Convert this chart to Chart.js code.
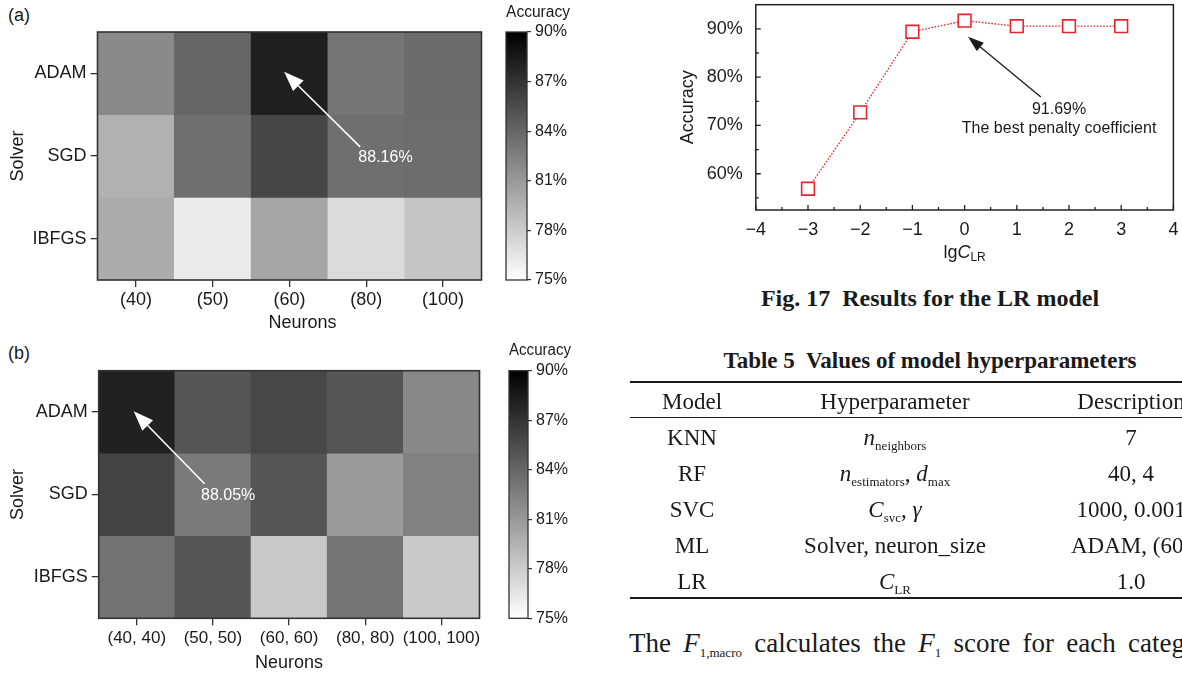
<!DOCTYPE html>
<html>
<head>
<meta charset="utf-8">
<title>MLP and LR results</title>
<script src="https://cdn.jsdelivr.net/npm/chart.js@4.4.1/dist/chart.umd.min.js"></script>
<style>
  html, body { margin: 0; padding: 0; background: #fff; }
  body { position: relative; width: 1182px; height: 675px; overflow: hidden; color: #1a1a1a; }
  canvas, .t { position: absolute; }
  .sans { font-family: 'Liberation Sans', Arial, sans-serif; }
  .serif { font-family: 'Liberation Serif', 'Times New Roman', serif; }
  .rule { position: absolute; left: 630px; width: 560px; background: #1a1a1a; }
  .cell { position: absolute; width: 260px; margin-left: -130px; text-align: center; font-size: 23px; line-height: 24px; white-space: nowrap; }
  sub { font-size: 13px; vertical-align: baseline; position: relative; top: 5px; }
</style>
</head>
<body>
<div class="t sans" style="left:8px; top:5px; font-size:18px; line-height:20px">(a)</div>
<div class="t sans" style="left:8px; top:343px; font-size:18px; line-height:20px">(b)</div>

<canvas id="heatA" width="490" height="335" style="left:0; top:0"></canvas>
<canvas id="barA" width="74" height="335" style="left:496px; top:0"></canvas>
<canvas id="heatB" width="490" height="340" style="left:0; top:335px"></canvas>
<canvas id="barB" width="72" height="340" style="left:499px; top:335px"></canvas>
<canvas id="lr" width="542" height="275" style="left:640px; top:0"></canvas>

<div class="t serif" style="left:630px; width:600px; top:286px; text-align:center; font-weight:bold; font-size:24px; line-height:24px">Fig. 17&nbsp; Results for the LR model</div>

<div class="t serif" style="left:630px; width:600px; top:349px; text-align:center; font-weight:bold; font-size:23px; line-height:24px">Table 5&nbsp; Values of model hyperparameters</div>
<div class="rule" style="top:381px; height:2px"></div>
<div class="rule" style="top:416.5px; height:1.5px"></div>
<div class="rule" style="top:597px; height:2px"></div>

<div class="cell serif" style="left:692px; top:390px">Model</div>
<div class="cell serif" style="left:895px; top:390px">Hyperparameter</div>
<div class="cell serif" style="left:1131px; top:390px">Description</div>

<div class="cell serif" style="left:692px; top:426px">KNN</div>
<div class="cell serif" style="left:895px; top:426px"><i>n</i><sub>neighbors</sub></div>
<div class="cell serif" style="left:1131px; top:426px">7</div>

<div class="cell serif" style="left:692px; top:462px">RF</div>
<div class="cell serif" style="left:895px; top:462px"><i>n</i><sub>estimators</sub>, <i>d</i><sub>max</sub></div>
<div class="cell serif" style="left:1131px; top:462px">40, 4</div>

<div class="cell serif" style="left:692px; top:498px">SVC</div>
<div class="cell serif" style="left:895px; top:498px"><i>C</i><sub>svc</sub>, <i>γ</i></div>
<div class="cell serif" style="left:1131px; top:498px">1000, 0.001</div>

<div class="cell serif" style="left:692px; top:534px">ML</div>
<div class="cell serif" style="left:895px; top:534px">Solver, neuron_size</div>
<div class="cell serif" style="left:1131px; top:534px">ADAM, (60)</div>

<div class="cell serif" style="left:692px; top:570px">LR</div>
<div class="cell serif" style="left:895px; top:570px"><i>C</i><sub>LR</sub></div>
<div class="cell serif" style="left:1131px; top:570px">1.0</div>

<div class="t serif" style="left:629px; top:630px; font-size:27px; line-height:27px; word-spacing:5.5px; white-space:nowrap">The <i>F</i><sub>1,macro</sub> calculates the <i>F</i><sub>1</sub> score for each category</div>

<script>
Chart.defaults.font.family = "'Liberation Sans', Arial, sans-serif";
Chart.defaults.color = '#1a1a1a';

const solvers = ['ADAM', 'SGD', 'IBFGS'];
const neuronsA = ['(40)', '(50)', '(60)', '(80)', '(100)'];
const neuronsB = ['(40, 40)', '(50, 50)', '(60, 60)', '(80, 80)', '(100, 100)'];

// accuracy (%) per solver, one value per hidden layer size
const accA_ADAM = [81.9, 84.0, 88.16, 83.1, 83.7];
const accA_SGD = [79.6, 83.5, 85.9, 83.5, 83.6];
const accA_IBFGS = [79.9, 76.2, 80.3, 77.1, 78.4];

const accB_ADAM = [88.05, 85.0, 85.8, 85.0, 82.0];
const accB_SGD = [86.0, 82.8, 85.0, 80.9, 82.4];
const accB_IBFGS = [83.3, 85.0, 78.2, 83.2, 78.2];

// colour bar range
const cbarMin = 75, cbarMax = 90, cbarStep = 3;

// LR model, accuracy vs lg C
const lgC = [-3, -2, -1, 0, 1, 2, 3];
const lrAcc = [56.9, 72.7, 89.4, 91.69, 90.55, 90.55, 90.55];

const ink = '#1a1a1a';
const red = '#e3262d';
const sans = "'Liberation Sans', Arial, sans-serif";

function grey(v) {
  let g = Math.round(255 * (cbarMax - v) / (cbarMax - cbarMin));
  g = Math.max(0, Math.min(255, g));
  return 'rgb(' + g + ',' + g + ',' + g + ')';
}

// box round the plot area
function frame(color, width) {
  return {
    id: 'frame',
    afterDatasetsDraw(chart) {
      const { ctx, chartArea: a } = chart;
      ctx.save();
      ctx.strokeStyle = color;
      ctx.lineWidth = width;
      ctx.strokeRect(a.left, a.top, a.right - a.left, a.bottom - a.top);
      ctx.restore();
    }
  };
}

// arrow + text, placed in data coordinates
function note(o) {
  return {
    id: 'note',
    afterDatasetsDraw(chart) {
      const { ctx, scales } = chart;
      const px = p => [scales.x.getPixelForValue(p[0]), scales.y.getPixelForValue(p[1])];
      const [x0, y0] = px(o.from);
      const [x1, y1] = px(o.to);
      const ang = Math.atan2(y1 - y0, x1 - x0);
      const hl = o.headLen, hw = o.headWidth / 2;
      const bx = x1 - hl * Math.cos(ang), by = y1 - hl * Math.sin(ang);
      ctx.save();
      ctx.strokeStyle = o.color;
      ctx.fillStyle = o.color;
      ctx.lineWidth = o.lineWidth;
      ctx.beginPath();
      ctx.moveTo(x0, y0);
      ctx.lineTo(bx, by);
      ctx.stroke();
      ctx.beginPath();
      ctx.moveTo(x1, y1);
      ctx.lineTo(bx + hw * Math.sin(ang), by - hw * Math.cos(ang));
      ctx.lineTo(bx - hw * Math.sin(ang), by + hw * Math.cos(ang));
      ctx.closePath();
      ctx.fill();
      ctx.font = '16px ' + sans;
      ctx.textAlign = 'center';
      ctx.textBaseline = 'middle';
      o.text.forEach((t, i) => {
        const [tx, ty] = px(o.textAt[i]);
        ctx.fillText(t, tx, ty);
      });
      ctx.restore();
    }
  };
}

// x axis title made of pieces (italic, subscript)
function axisTitle(o) {
  return {
    id: 'axisTitle',
    afterDraw(chart) {
      const { ctx, chartArea: a } = chart;
      ctx.save();
      ctx.fillStyle = ink;
      ctx.textAlign = 'left';
      ctx.textBaseline = 'alphabetic';
      let w = 0;
      const widths = o.parts.map(p => {
        ctx.font = p.f;
        const m = ctx.measureText(p.text).width;
        w += m;
        return m;
      });
      let x = (a.left + a.right) / 2 + o.dx - w / 2;
      o.parts.forEach((p, i) => {
        ctx.font = p.f;
        ctx.fillText(p.text, x, a.bottom + o.dy + (p.shift || 0));
        x += widths[i];
      });
      ctx.restore();
    }
  };
}

// inward major/minor ticks for the LR plot
const inTicks = {
  id: 'inTicks',
  afterDatasetsDraw(chart) {
    const { ctx, chartArea: a, scales } = chart;
    ctx.save();
    ctx.strokeStyle = '#222';
    ctx.lineWidth = 1.3;
    ctx.beginPath();
    for (const key of ['x', 'y']) {
      const s = scales[key];
      const major = s.ticks.map(t => t.value);
      const step = major[1] - major[0];
      const marks = major.map(v => [v, 5]);
      for (let v = major[0] - step / 2; v <= s.max; v += step) {
        if (v > s.min && v < s.max) marks.push([v, 3]);
      }
      for (const [v, len] of marks) {
        const p = s.getPixelForValue(v);
        if (key === 'x') { ctx.moveTo(p, a.bottom); ctx.lineTo(p, a.bottom - len); }
        else { ctx.moveTo(a.left, p); ctx.lineTo(a.left + len, p); }
      }
    }
    ctx.stroke();
    ctx.restore();
  }
};

// fixed axis size, no extra room for half labels at the ends
function fixSize(dim, size) {
  return s => {
    s[dim] = size;
    s.paddingTop = 0;
    s.paddingBottom = 0;
    s.paddingLeft = 0;
    s.paddingRight = 0;
  };
}

function heatmap(id, labels, rows, o) {
  const n = rows.length;
  return new Chart(document.getElementById(id), {
    type: 'bar',
    data: {
      labels: labels,
      datasets: rows.map((vals, r) => ({
        label: solvers[r],
        data: vals.map(() => [n - 1 - r, n - r]),
        backgroundColor: vals.map(grey),
        borderWidth: 0,
        grouped: false,
        barPercentage: 1,
        categoryPercentage: 1
      }))
    },
    options: {
      responsive: false,
      animation: false,
      events: [],
      layout: { padding: o.padding },
      plugins: { legend: { display: false }, tooltip: { enabled: false } },
      scales: {
        x: {
          grid: { offset: false, drawOnChartArea: false, tickLength: 7, color: '#333', lineWidth: 1.3 },
          border: { display: false },
          ticks: { font: { size: o.tickSize }, color: ink, padding: 2.5, autoSkip: false, maxRotation: 0 },
          afterFit: fixSize('height', o.xHeight)
        },
        y: {
          min: 0,
          max: n,
          afterBuildTicks: s => { s.ticks = solvers.map((name, i) => ({ value: n - 0.5 - i })); },
          ticks: { callback: v => solvers[Math.round(n - 0.5 - v)], font: { size: 18 }, color: ink, padding: 4 },
          grid: { drawOnChartArea: false, tickLength: 7, color: '#333', lineWidth: 1.3 },
          border: { display: false },
          title: { display: true, text: 'Solver', font: { size: 18 }, color: ink, padding: { top: 7, bottom: 0 } },
          afterFit: fixSize('width', o.yWidth)
        }
      }
    },
    plugins: [frame('#333', 1.6), note(o.note), axisTitle(o.xTitle)]
  });
}

function colorbar(id, o) {
  return new Chart(document.getElementById(id), {
    type: 'bar',
    data: {
      labels: ['Accuracy'],
      datasets: [{
        data: [[cbarMin, cbarMax]],
        backgroundColor: c => {
          const a = c.chart.chartArea;
          if (!a || !isFinite(a.top) || !isFinite(a.bottom)) return grey((cbarMin + cbarMax) / 2);
          const g = c.chart.ctx.createLinearGradient(0, a.bottom, 0, a.top);
          g.addColorStop(0, grey(cbarMin));
          g.addColorStop(1, grey(cbarMax));
          return g;
        },
        borderWidth: 0,
        barPercentage: 1,
        categoryPercentage: 1
      }]
    },
    options: {
      responsive: false,
      animation: false,
      events: [],
      layout: { padding: { left: 10, top: 0, right: 0, bottom: o.bottom } },
      plugins: {
        legend: { display: false },
        tooltip: { enabled: false },
        title: { display: true, text: 'Accuracy', font: { size: 16, weight: 'normal' }, color: ink, padding: o.titlePad }
      },
      scales: {
        x: { display: false },
        y: {
          position: 'right',
          min: cbarMin,
          max: cbarMax,
          ticks: { stepSize: cbarStep, callback: v => v + '%', font: { size: 16 }, color: ink, padding: 4 },
          grid: { drawOnChartArea: false, tickLength: 4, color: '#333', lineWidth: 1.2 },
          border: { display: false },
          afterFit: s => { s.width = 43; }
        }
      }
    },
    plugins: [frame('#333', 1.3)]
  });
}

heatmap('heatA', neuronsA, [accA_ADAM, accA_SGD, accA_IBFGS], {
  padding: { left: 0, top: 32, right: 8.5, bottom: 0 },
  yWidth: 97.5, xHeight: 55, tickSize: 18,
  note: { from: [2.92, 1.61], to: [1.93, 2.52], text: ['88.16%'], textAt: [[3.25, 1.48]],
          color: '#fff', lineWidth: 1.6, headLen: 20, headWidth: 15 },
  xTitle: { parts: [{ text: 'Neurons', f: '18px ' + sans }], dx: 13, dy: 48 }
});
colorbar('barA', { bottom: 55, titlePad: { top: 3, bottom: 9.8 } });

heatmap('heatB', neuronsB, [accB_ADAM, accB_SGD, accB_IBFGS], {
  padding: { left: 0, top: 35.7, right: 10.5, bottom: 0 },
  yWidth: 98.7, xHeight: 56.7, tickSize: 17,
  note: { from: [0.89, 1.63], to: [-0.04, 2.51], text: ['88.05%'], textAt: [[1.2, 1.485]],
          color: '#fff', lineWidth: 1.6, headLen: 20, headWidth: 15 },
  xTitle: { parts: [{ text: 'Neurons', f: '18px ' + sans }], dx: 0, dy: 49.7 }
});
colorbar('barB', { bottom: 56.7, titlePad: { top: 6, bottom: 10.5 } });

new Chart(document.getElementById('lr'), {
  type: 'scatter',
  data: {
    datasets: [{
      data: lgC.map((v, i) => ({ x: v, y: lrAcc[i] })),
      showLine: true,
      borderColor: red,
      borderWidth: 1.3,
      borderDash: [1.6, 1.6],
      pointStyle: 'rect',
      pointRadius: 9,
      pointBorderWidth: 1.6,
      pointBorderColor: red,
      pointBackgroundColor: '#fff'
    }]
  },
  options: {
    responsive: false,
    animation: false,
    events: [],
    layout: { autoPadding: false, padding: { left: 33.2, top: 4.7, right: 8.6, bottom: 0 } },
    plugins: { legend: { display: false }, tooltip: { enabled: false } },
    scales: {
      x: {
        type: 'linear',
        min: -4,
        max: 4,
        ticks: { stepSize: 1, callback: v => (v < 0 ? '\u2212' + (-v) : String(v)), font: { size: 18 }, color: ink, padding: 9 },
        grid: { display: false, drawTicks: false },
        border: { display: false },
        afterFit: fixSize('height', 65)
      },
      y: {
        min: 52.5,
        max: 95,
        afterBuildTicks: s => { s.ticks = s.ticks.filter(t => t.value % 10 === 0); },
        ticks: { stepSize: 10, callback: v => v + '%', font: { size: 18 }, color: ink, padding: 13 },
        grid: { display: false, drawTicks: false },
        border: { display: false },
        title: { display: true, text: 'Accuracy', font: { size: 18 }, color: ink, padding: { top: 4, bottom: 0 } },
        afterFit: fixSize('width', 82.6)
      }
    }
  },
  plugins: [
    frame('#222', 1.5),
    inTicks,
    note({ from: [1.46, 75.9], to: [0.065, 88.34], text: ['91.69%', 'The best penalty coefficient'],
           textAt: [[1.81, 73.35], [1.81, 69.4]], color: ink, lineWidth: 1.3, headLen: 16, headWidth: 11 }),
    axisTitle({
      parts: [
        { text: 'lg', f: '18px ' + sans },
        { text: 'C', f: 'italic 18px ' + sans },
        { text: 'LR', f: '12px ' + sans, shift: 3 }
      ],
      dx: 0, dy: 48
    })
  ]
});
</script>
</body>
</html>
